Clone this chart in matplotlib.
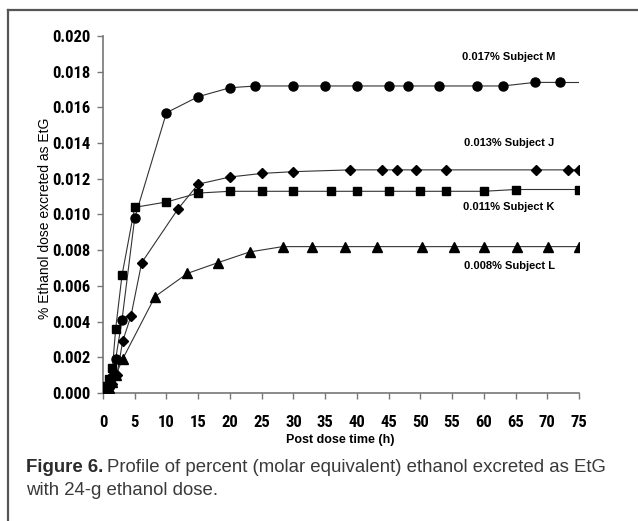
import matplotlib
matplotlib.use("Agg")
import matplotlib.pyplot as plt
from matplotlib import font_manager as fm
from matplotlib.lines import Line2D

# Subject M (circles)
t_m = [0, 0.25, 0.5, 1.0, 1.5, 2.0, 3.0, 5.0, 10.0, 15.0, 20.0, 24.0, 30.0,
       35.0, 40.0, 45.0, 48.0, 53.0, 59.0, 63.0, 68.0, 72.0]
v_m = [0, 0.0001, 0.0002, 0.0005, 0.0009, 0.0019, 0.0041, 0.0098, 0.0157, 0.0166,
       0.0171, 0.0172, 0.0172, 0.0172, 0.0172, 0.0172, 0.0172, 0.0172, 0.0172,
       0.0172, 0.0174, 0.0174]

# Subject J (diamonds)
t_j = [0, 0.5, 1.0, 1.5, 2.2, 3.1, 4.4, 6.1, 11.8, 15.0, 20.0, 25.0, 30.0,
       39.0, 44.0, 46.3, 49.3, 54.0, 68.2, 73.2, 75.0]
v_j = [0, 0.0001, 0.0003, 0.0005, 0.0010, 0.0029, 0.0043, 0.0073, 0.0103, 0.0117,
       0.0121, 0.0123, 0.0124, 0.0125, 0.0125, 0.0125, 0.0125, 0.0125, 0.0125,
       0.0125, 0.0125]

# Subject K (squares)
t_k = [0, 0.25, 0.5, 1.0, 1.5, 2.0, 3.0, 5.0, 10.0, 15.0, 20.0, 25.0, 30.0,
       36.0, 40.0, 45.0, 50.0, 54.0, 60.0, 65.0, 75.0]
v_k = [0, 0.0002, 0.0004, 0.0008, 0.0014, 0.0036, 0.0066, 0.0104, 0.0107, 0.0112,
       0.0113, 0.0113, 0.0113, 0.0113, 0.0113, 0.0113, 0.0113, 0.0113, 0.0113,
       0.0114, 0.0114]

# Subject L (triangles)
t_l = [0, 0.5, 1.0, 1.5, 2.0, 3.1, 8.2, 13.3, 18.1, 23.1, 28.3, 33.0, 38.1,
       43.2, 50.2, 55.3, 60.0, 65.2, 70.1, 75.0]
v_l = [0, 0.0001, 0.0003, 0.0006, 0.0010, 0.0019, 0.0054, 0.0067, 0.0073, 0.0079,
       0.0082, 0.0082, 0.0082, 0.0082, 0.0082, 0.0082, 0.0082, 0.0082, 0.0082,
       0.0082]

labels = ["0.017% Subject M", "0.013% Subject J", "0.011% Subject K", "0.008% Subject L"]
label_y = [0.0188, 0.0140, 0.0104, 0.0071]
label_x = 64

x_ticks = list(range(0, 76, 5))
y_ticks = [0.000, 0.002, 0.004, 0.006, 0.008, 0.010, 0.012, 0.014, 0.016, 0.018, 0.020]


def have_font(name):
    try:
        fm.findfont(fm.FontProperties(family=name), fallback_to_default=False)
        return True
    except ValueError:
        return False


# a narrow face for the tick numbers if one is installed
narrow_name = None
for cand in ["Liberation Sans Narrow", "Roboto Condensed", "Open Sans Condensed"]:
    if have_font(cand):
        narrow_name = cand
        break
if narrow_name:
    narrow = [narrow_name, "DejaVu Sans"]
    tick_size = 12
else:
    narrow = ["Liberation Sans", "DejaVu Sans"]
    tick_size = 10
sans = ["Liberation Sans", "DejaVu Sans"]
cap_size = 13.4

fig = plt.figure(figsize=(6.38, 5.21), dpi=100)
ax = fig.add_axes([0.1614, 0.2457, 0.7461, 0.6852])

series = [(t_m, v_m, "o", 6.5), (t_j, v_j, "D", 5.5),
          (t_k, v_k, "s", 6.0), (t_l, v_l, "^", 7.0)]
for t, v, mk, ms in series:
    ax.plot(t, v, color="#333333", lw=0.8, zorder=2)
    ax.plot(t, v, ls="none", marker=mk, ms=ms, color="black", zorder=3)
# line of subject M runs on to the end of the axis
ax.plot([t_m[-1], 75], [v_m[-1], v_m[-1]], color="#333333", lw=0.8)

for txt, y in zip(labels, label_y):
    ax.text(label_x, y, txt, ha="center", va="center", fontsize=8,
            fontweight="bold", family=sans)

ax.set_xlim(0, 75)
ax.set_ylim(0, 0.020)
ax.set_xticks(x_ticks)
ax.set_yticks(y_ticks)
ax.set_yticklabels([f"{v:.3f}" for v in y_ticks])
for s in ("top", "right"):
    ax.spines[s].set_visible(False)
for s in ("left", "bottom"):
    ax.spines[s].set_color("#777777")
    ax.spines[s].set_linewidth(1.2)
ax.tick_params(axis="both", colors="#777777", length=4, width=1.0)
ax.tick_params(axis="x", pad=12)
ax.tick_params(axis="y", pad=5)
for lab in ax.get_xticklabels() + ax.get_yticklabels():
    lab.set_family(narrow)
    lab.set_fontweight("bold")
    lab.set_fontsize(tick_size)
    lab.set_color("black")

fig.text(340 / 638, 1 - 440 / 521, "Post dose time (h)", ha="center", va="center",
         fontsize=9, fontweight="bold", family=sans)
fig.text(45 / 638, 1 - 218 / 521, "% Ethanol dose excreted as EtG", ha="center",
         va="center", rotation=90, fontsize=10, family=sans)

# caption: bold lead-in, then plain text
cap_x = 26 / 638
head = fig.text(cap_x, 1 - 472 / 521, "Figure 6.", fontsize=cap_size,
                fontweight="bold", family=sans, color="#2b2b2b", va="baseline")
fig.canvas.draw()
bb = head.get_window_extent(renderer=fig.canvas.get_renderer())
fig.text((bb.x1 + 4) / fig.bbox.width, 1 - 472 / 521,
         "Profile of percent (molar equivalent) ethanol excreted as EtG",
         fontsize=cap_size, family=sans, color="#3a3a3a", va="baseline")
fig.text(cap_x, 1 - 495 / 521, "with 24-g ethanol dose.", fontsize=cap_size,
         family=sans, color="#3a3a3a", va="baseline")

# outer frame
fig.add_artist(Line2D([8 / 638, 1], [1 - 10 / 521, 1 - 10 / 521], color="#555555", lw=1.6))
fig.add_artist(Line2D([8 / 638, 8 / 638], [0, 1 - 10 / 521], color="#555555", lw=1.6))

fig.savefig("out.png", dpi=100)
